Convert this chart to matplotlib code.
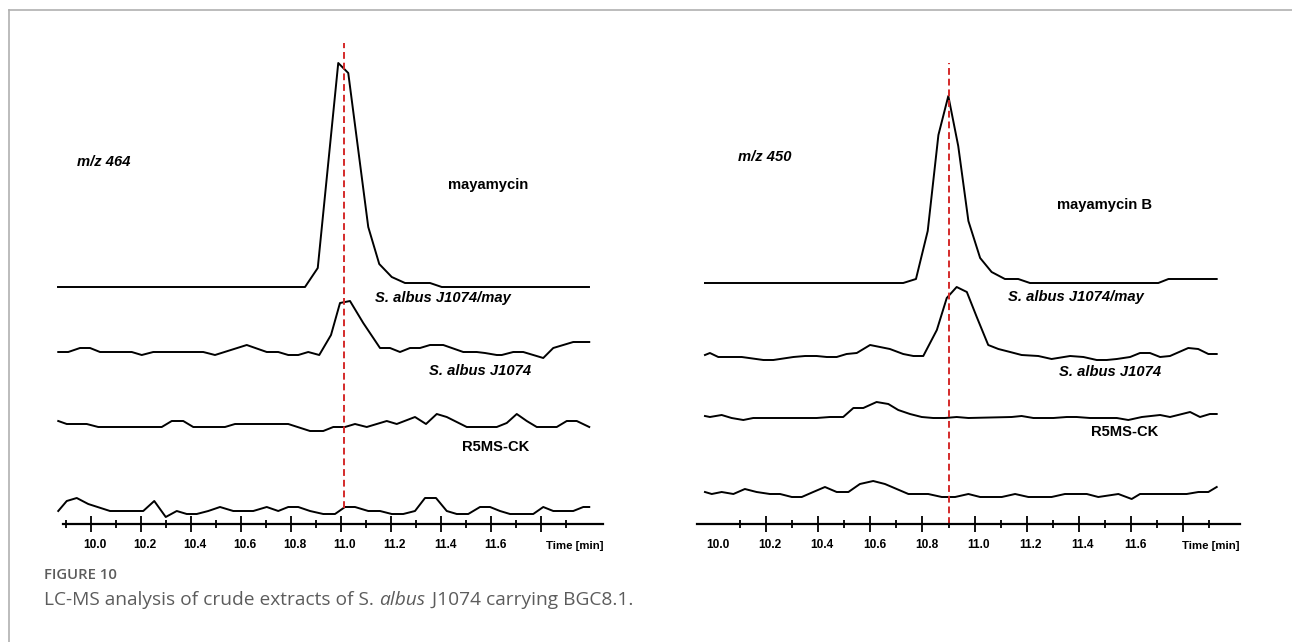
import matplotlib
matplotlib.use("Agg")
import matplotlib.pyplot as plt
import matplotlib.transforms as mtransforms
from matplotlib.lines import Line2D

plt.rcParams['font.family'] = ['Liberation Sans', 'DejaVu Sans']

# ---- m/z 464 traces (time in min, signal above each baseline) ----
time464_std = [9.868, 10.856, 10.907, 10.989, 11.029, 11.109, 11.153, 11.203, 11.256, 11.356, 11.403, 11.992]
int464_std = [0, 0, 19, 224, 214, 60, 23, 10, 4, 4, 0, 0]

time464_may = [9.869, 9.909, 9.956, 9.996, 10.036, 10.163, 10.203, 10.249, 10.449, 10.496,
               10.623, 10.703, 10.749, 10.789, 10.829, 10.869, 10.913, 10.96, 10.996, 11.036,
               11.089, 11.156, 11.196, 11.236, 11.276, 11.316, 11.356, 11.409, 11.489, 11.543,
               11.576, 11.623, 11.643, 11.689, 11.729, 11.769, 11.809, 11.849, 11.889, 11.929, 11.993]
int464_may = [0, 0, 4, 4, 0, 0, -3, 0, 0, -3,
              7, 0, 0, -3, -3, 0, -3, 17, 49, 51,
              29, 4, 4, 0, 4, 4, 7, 7, 0, 0,
              -1, -3, -3, 0, 0, -3, -6, 4, 7, 10, 10]

time464_wt = [9.869, 9.903, 9.983, 10.029, 10.283, 10.323, 10.369, 10.409, 10.536, 10.576,
              10.789, 10.876, 10.929, 10.969, 11.016, 11.056, 11.103, 11.183, 11.223, 11.296,
              11.34, 11.383, 11.423, 11.503, 11.623, 11.663, 11.703, 11.743, 11.783, 11.863,
              11.903, 11.943, 11.993]
int464_wt = [6, 3, 3, 0, 0, 6, 6, 0, 0, 3,
             3, -4, -4, 0, 0, 3, 0, 6, 3, 10,
             3, 13, 10, 0, 0, 4, 13, 6, 0, 0,
             6, 6, 0]

time464_ck = [9.869, 9.903, 9.943, 9.989, 10.076, 10.209, 10.253, 10.299, 10.343, 10.383,
              10.423, 10.469, 10.516, 10.569, 10.649, 10.703, 10.749, 10.789, 10.829, 10.876,
              10.929, 10.976, 11.016, 11.056, 11.109, 11.156, 11.203, 11.249, 11.296, 11.336,
              11.38, 11.423, 11.463, 11.509, 11.556, 11.596, 11.636, 11.676, 11.769, 11.809,
              11.849, 11.929, 11.969, 11.993]
int464_ck = [0, 10, 13, 7, 0, 0, 10, -6, 0, -3,
             -3, 0, 4, 0, 0, 4, 0, 4, 4, 0,
             -3, -3, 4, 4, 0, 0, -3, -3, 0, 13,
             13, 0, -3, -3, 4, 4, 0, -3, -3, 4,
             0, 0, 4, 4]

# ---- m/z 450 traces ----
time450_std = [9.966, 10.726, 10.775, 10.82, 10.861, 10.899, 10.937, 10.976, 11.021, 11.065,
               11.116, 11.167, 11.212, 11.704, 11.743, 11.928]
int450_std = [0, 0, 4, 52, 148, 187, 137, 62, 25, 11, 4, 4, 0, 0, 4, 4]

time450_may = [9.966, 9.985, 10.017, 10.107, 10.19, 10.228, 10.305, 10.35, 10.394, 10.433,
               10.471, 10.509, 10.548, 10.599, 10.637, 10.675, 10.726, 10.765, 10.803, 10.855,
               10.893, 10.931, 10.97, 11.008, 11.052, 11.091, 11.136, 11.18, 11.244, 11.295,
               11.366, 11.417, 11.468, 11.506, 11.545, 11.596, 11.634, 11.672, 11.711, 11.749,
               11.819, 11.857, 11.896, 11.928]
int450_may = [2, 4, 0, 0, -3, -3, 0, 1, 1, 0,
              0, 3, 4, 12, 10, 8, 3, 1, 1, 27,
              59, 70, 65, 40, 12, 8, 5, 2, 1, -2,
              1, 0, -3, -3, -2, 0, 4, 4, 0, 1,
              9, 8, 3, 3]

time450_wt = [9.966, 9.985, 10.03, 10.068, 10.113, 10.151, 10.394, 10.445, 10.496, 10.535,
              10.573, 10.624, 10.669, 10.707, 10.752, 10.797, 10.841, 10.886, 10.931, 10.976,
              11.142, 11.18, 11.225, 11.302, 11.353, 11.391, 11.442, 11.545, 11.589, 11.641,
              11.711, 11.749, 11.826, 11.864, 11.902, 11.928]
int450_wt = [2, 1, 3, 0, -2, 0, 0, 1, 1, 10,
             10, 16, 14, 8, 4, 1, 0, 0, 1, 0,
             1, 2, 0, 0, 1, 1, 0, 0, -2, 1,
             3, 1, 6, 1, 4, 4]

time450_ck = [9.966, 9.992, 10.03, 10.075, 10.119, 10.164, 10.215, 10.254, 10.299, 10.337,
              10.381, 10.426, 10.471, 10.516, 10.56, 10.611, 10.656, 10.701, 10.746, 10.822,
              10.874, 10.925, 10.976, 11.021, 11.104, 11.155, 11.206, 11.295, 11.346, 11.43,
              11.474, 11.551, 11.602, 11.634, 11.813, 11.858, 11.896, 11.928]
int450_ck = [2, 0, 2, 0, 5, 2, 0, 0, -3, -3,
             2, 7, 2, 2, 10, 13, 10, 5, 0, 0,
             -3, -3, 0, -3, -3, 0, -3, -3, 0, 0,
             -3, 0, -5, 0, 0, 2, 2, 7]

trace_names = ['mayamycin', 'S. albus J1074/may', 'S. albus J1074', 'R5MS-CK']
tick_values = [10.0, 10.2, 10.4, 10.6, 10.8, 11.0, 11.2, 11.4, 11.6, 11.8]
tick_labels = ['10.0', '10.2', '10.4', '10.6', '10.8', '11.0', '11.2', '11.4', '11.6', '']
minor_left = [9.9, 10.1, 10.3, 10.5, 10.7, 10.9, 11.1, 11.3, 11.5, 11.7, 11.9]
minor_right = [10.1, 10.3, 10.5, 10.7, 10.9, 11.1, 11.3, 11.5, 11.7, 11.9]
peak_time = [11.01, 10.9]

fig = plt.figure(figsize=(12.92, 6.42), dpi=100)
W, H = 1292, 642


def make_axes(x0, x1, xlim, spine_bounds, minor_values, time_pos):
    ax = fig.add_axes([x0 / W, 118 / H, (x1 - x0) / W, 494 / H])
    ax.set_xlim(*xlim)
    ax.set_ylim(0, 494)
    for s in ['top', 'right', 'left']:
        ax.spines[s].set_visible(False)
    ax.spines['bottom'].set_linewidth(1.6)
    ax.spines['bottom'].set_bounds(*spine_bounds)
    ax.set_yticks([])
    ax.set_xticks(tick_values)
    ax.set_xticklabels(tick_labels, fontsize=8.6, fontweight='bold')
    ax.set_xticks(minor_values, minor=True)
    ax.tick_params(axis='x', which='major', direction='inout', length=12, width=1.3, pad=5)
    ax.tick_params(axis='x', which='minor', direction='inout', length=6, width=1.3)
    shift = mtransforms.ScaledTranslation(4 / 100, 0, fig.dpi_scale_trans)
    for lbl in ax.get_xticklabels():
        lbl.set_transform(lbl.get_transform() + shift)
    ax.annotate('Time [min]', xy=(time_pos, 0), xycoords=('data', 'axes fraction'),
                xytext=(4, -22), textcoords='offset pixels', ha='center', va='center',
                fontsize=8.2, fontweight='bold')
    ax.patch.set_visible(False)
    return ax


# ---------------- left panel: m/z 464 ----------------
axL = make_axes(40, 615, (9.796, 12.096), (9.888, 12.048), minor_left, 11.92)
offsL = [237, 172, 97, 13]
for t, y, off in zip([time464_std, time464_may, time464_wt, time464_ck],
                     [int464_std, int464_may, int464_wt, int464_ck], offsL):
    axL.plot(t, [v + off for v in y], color='black', lw=1.4)
axL.vlines(peak_time[0], 16, 481, colors='#d42a2a', linestyles=(0, (3.5, 2)), lw=1.4)
axL.text(9.944, 362, 'm/z 464', fontsize=10.6, fontweight='bold', style='italic', va='center')
axL.text(11.588, 339, trace_names[0], fontsize=10.6, fontweight='bold', ha='center', va='center')
axL.text(11.408, 226, trace_names[1], fontsize=10.6, fontweight='bold', style='italic', ha='center', va='center')
axL.text(11.556, 153, trace_names[2], fontsize=10.6, fontweight='bold', style='italic', ha='center', va='center')
axL.text(11.62, 77, trace_names[3], fontsize=10.6, fontweight='bold', ha='center', va='center')

# ---------------- right panel: m/z 450 ----------------
axR = make_axes(690, 1260, (9.9086, 12.094), (9.935, 12.0175), minor_right, 11.89)
axR.xaxis.get_major_ticks()[0].tick1line.set_visible(False)
offsR = [241, 167, 106, 30]
for t, y, off in zip([time450_std, time450_may, time450_wt, time450_ck],
                     [int450_std, int450_may, int450_wt, int450_ck], offsR):
    axR.plot(t, [v + off for v in y], color='black', lw=1.4)
axR.vlines(peak_time[1], 0, 461, colors='#d42a2a', linestyles=(0, (3.5, 2)), lw=1.4)
axR.text(10.093, 367, 'm/z 450', fontsize=10.6, fontweight='bold', style='italic', va='center')
axR.text(11.496, 319, trace_names[0] + ' B', fontsize=10.6, fontweight='bold', ha='center', va='center')
axR.text(11.389, 227, trace_names[1], fontsize=10.6, fontweight='bold', style='italic', ha='center', va='center')
axR.text(11.519, 152, trace_names[2], fontsize=10.6, fontweight='bold', style='italic', ha='center', va='center')
axR.text(11.575, 92, trace_names[3], fontsize=10.6, fontweight='bold', ha='center', va='center')

# ---------------- frame and caption ----------------
fig.add_artist(Line2D([9 / W, 1.0], [1 - 10 / H, 1 - 10 / H], color='#b0b0b0', lw=1.2))
fig.add_artist(Line2D([9 / W, 9 / W], [0, 1 - 10 / H], color='#b0b0b0', lw=1.2))

cap_color = '#5c5c5c'
fig.text(44 / W, 1 - 575 / H, 'FIGURE 10', fontsize=10.7, family='Open Sans',
         fontweight='semibold', color=cap_color, va='center')

renderer = fig.canvas.get_renderer()
parts = [('LC-MS analysis of crude extracts of S. ', 'normal'),
         ('albus', 'italic'),
         (' J1074 carrying BGC8.1.', 'normal')]
x = 44
for txt, st in parts:
    t = fig.text(x / W, 1 - 600 / H, txt, fontsize=13.8, family='Open Sans',
                 style=st, color=cap_color, va='center')
    bb = t.get_window_extent(renderer)
    x = bb.x1 + (2 if st == 'italic' else 0)

fig.savefig('out.png', dpi=100)
